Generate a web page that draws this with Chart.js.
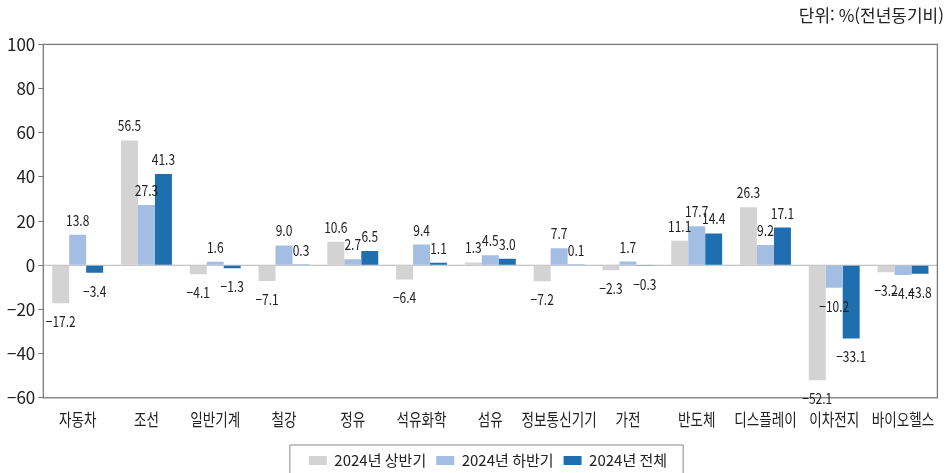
<!DOCTYPE html>
<html lang="ko">
<head>
<meta charset="UTF-8" />
<title>산업별 수출 증감률</title>
<script src="https://cdn.jsdelivr.net/npm/chart.js"></script>
<style>
  html, body { margin: 0; padding: 0; background: #fff; }
  #wrap { width: 949px; height: 473px; position: relative; }
</style>
</head>
<body>
<div id="wrap"><canvas id="exportChart"></canvas></div>
<script>
const industries = ['자동차', '조선', '일반기계', '철강', '정유', '석유화학', '섬유', '정보통신기기', '가전', '반도체', '디스플레이', '이차전지', '바이오헬스'];
const firstHalf  = [-17.2, 56.5, -4.1, -7.1, 10.6, -6.4, 1.3, -7.2, -2.3, 11.1, 26.3, -52.1, -3.2];
const secondHalf = [13.8, 27.3, 1.6, 9.0, 2.7, 9.4, 4.5, 7.7, 1.7, 17.7, 9.2, -10.2, -4.4];
const fullYear   = [-3.4, 41.3, -1.3, 0.3, 6.5, 1.1, 3.0, 0.1, -0.3, 14.4, 17.1, -33.1, -3.8];
const yTicks = [100, 80, 60, 40, 20, 0, -20, -40, -60];

const FONT = "'Noto Sans CJK KR', sans-serif";
const NARROW = 0.8;        // horizontal squeeze for labels
const LEGEND_SHIFT = 14;   // legend sits a little right of centre

function narrowText(ctx, txt, x, y) {
  ctx.save();
  ctx.translate(x, y);
  ctx.scale(NARROW, 1);
  ctx.fillText(txt, 0, 0);
  ctx.restore();
}

// frame round the plot, zero line, value labels, category labels, legend box
const decor = {
  id: 'decor',
  afterLayout(chart) {
    const lg = chart.legend;
    lg.left += LEGEND_SHIFT;
    lg.right += LEGEND_SHIFT;
    (lg.legendHitBoxes || []).forEach(h => { h.left += LEGEND_SHIFT; });
  },
  beforeDatasetsDraw(chart) {
    const { ctx, chartArea: a, scales: { y } } = chart;
    const y0 = y.getPixelForValue(0);
    ctx.save();
    ctx.strokeStyle = '#b5b5b5';
    ctx.lineWidth = 1;
    ctx.beginPath();
    ctx.moveTo(a.left, y0);
    ctx.lineTo(a.right, y0);
    ctx.stroke();
    ctx.restore();
  },
  afterDatasetsDraw(chart) {
    const { ctx, chartArea: a, scales: { x } } = chart;
    ctx.save();
    ctx.strokeStyle = '#7a7a7a';
    ctx.lineWidth = 1.3;
    ctx.strokeRect(a.left, a.top, a.right - a.left, a.bottom - a.top);

    ctx.font = '15px ' + FONT;
    ctx.fillStyle = '#222';
    ctx.textAlign = 'center';
    ctx.textBaseline = 'alphabetic';
    chart.data.datasets.forEach((ds, i) => {
      chart.getDatasetMeta(i).data.forEach((bar, j) => {
        const v = ds.data[j];
        const txt = (v < 0 ? '\u2212' : '') + Math.abs(v).toFixed(1);
        narrowText(ctx, txt, bar.x, v >= 0 ? bar.y - 9 : bar.y + 24);
      });
    });

    ctx.font = '17px ' + FONT;
    ctx.textBaseline = 'middle';
    industries.forEach((name, i) => {
      narrowText(ctx, name, x.getPixelForValue(i), a.bottom + 22);
    });

    const lg = chart.legend;
    ctx.strokeStyle = '#8a8a8a';
    ctx.lineWidth = 1;
    const items = lg.legendHitBoxes;
    if (items && items.length) {
      const l = items[0].left - 19;
      const last = items[items.length - 1];
      const r = last.left + last.width + 16;
      ctx.strokeRect(l, lg.top + 2, r - l, chart.height - lg.top);
    }
    ctx.restore();
  }
};

new Chart(document.getElementById('exportChart'), {
  type: 'bar',
  data: {
    labels: industries,
    datasets: [
      { label: '2024년 상반기', data: firstHalf, backgroundColor: '#d3d3d3' },
      { label: '2024년 하반기', data: secondHalf, backgroundColor: '#a3bde3' },
      { label: '2024년 전체', data: fullYear, backgroundColor: '#1f6fb0' }
    ]
  },
  options: {
    responsive: true,
    maintainAspectRatio: false,
    animation: false,
    layout: { padding: { left: 4, right: 5, top: 0, bottom: -5 } },
    datasets: { bar: { barPercentage: 1, categoryPercentage: 0.74 } },
    scales: {
      x: {
        grid: { display: false },
        border: { display: false },
        ticks: { color: 'transparent', font: { family: FONT, size: 16 }, padding: 9, maxRotation: 0, autoSkip: false }
      },
      y: {
        min: -60,
        max: 100,
        afterBuildTicks(axis) { axis.ticks = yTicks.map(v => ({ value: v })); },
        grid: { drawOnChartArea: false, drawTicks: true, tickLength: 5, color: '#7a7a7a' },
        border: { display: false },
        ticks: {
          color: '#222',
          font: { family: FONT, size: 17 },
          padding: 3,
          callback: v => (v < 0 ? '\u2212' : '') + Math.abs(v)
        }
      }
    },
    plugins: {
      title: {
        display: true,
        text: '단위: %(전년동기비)',
        align: 'end',
        color: '#222',
        font: { family: FONT, size: 17, weight: 'normal' },
        padding: { top: 5, bottom: 19 }
      },
      legend: {
        position: 'bottom',
        labels: {
          color: '#222',
          font: { family: FONT, size: 15 },
          boxWidth: 18,
          boxHeight: 9,
          padding: 10
        }
      },
      tooltip: { enabled: false }
    }
  },
  plugins: [decor]
});
</script>
</body>
</html>
